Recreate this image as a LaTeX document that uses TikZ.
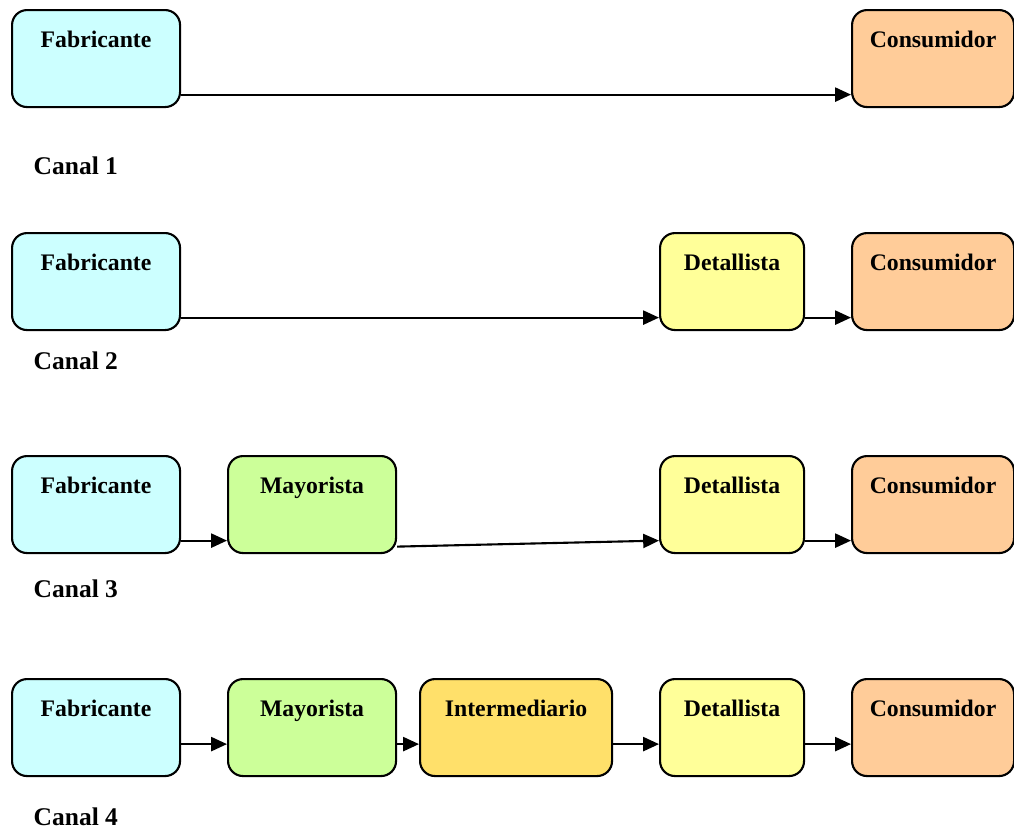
\documentclass[tikz,border=0pt]{standalone}
\usepackage{fontspec}
\setmainfont{Liberation Serif}
\usepackage{tikz}
\usetikzlibrary{positioning, arrows.meta}
\usepackage{xcolor}
\definecolor{fabcyan}{RGB}{204, 255, 255}
\definecolor{conorange}{RGB}{255, 204, 153}
\definecolor{detyellow}{RGB}{255, 255, 153}
\definecolor{maygreen}{RGB}{204, 255, 153}
\definecolor{intgold}{RGB}{255, 224, 106}

\begin{document}
\begin{tikzpicture}[>={Triangle[length=9pt, width=8pt]},
    box/.style={draw, line width=1.2pt, rounded corners=0.3cm, anchor=north west,
      inner xsep=0pt, inner ysep=0pt, text height=0.74cm, text depth=1.2cm,
      font=\fontsize{13.5}{16}\selectfont\bfseries},
    canal/.style={anchor=west, font=\fontsize{14.5}{17}\selectfont\bfseries},
    flow/.style={->, line width=1.2pt}]
  \useasboundingbox (0,0) rectangle (20.28,-16.62);
  % Canal 1: directo
  \begin{scope}[yshift=0cm]
    \node[box, fill=fabcyan, minimum width=3.36cm] (f1) at (0.22, -0.18) {Fabricante};
    \node[box, fill=conorange, minimum width=3.24cm] (c1) at (17.02, -0.18) {Consumidor};
    \draw[flow] ([yshift=0.27cm]f1.south east) -- ([yshift=0.27cm]c1.south west);
    \node[canal] (k1) at (0.55, -3.32) {Canal 1};
  \end{scope}
  % Canal 2: con detallista
  \begin{scope}[yshift=-4.46cm]
    \node[box, fill=fabcyan, minimum width=3.36cm] (f2) at (0.22, -0.18) {Fabricante};
    \node[box, fill=detyellow, minimum width=2.88cm] (d2) at (13.18, -0.18) {Detallista};
    \node[box, fill=conorange, minimum width=3.24cm] (c2) at (17.02, -0.18) {Consumidor};
    \draw[flow] ([yshift=0.27cm]f2.south east) -- ([yshift=0.27cm]d2.south west);
    \draw[flow] ([yshift=0.27cm]d2.south east) -- ([yshift=0.27cm]c2.south west);
    \node[canal] (k2) at (0.55, -2.76) {Canal 2};
  \end{scope}
  % Canal 3: mayorista y detallista
  \begin{scope}[yshift=-8.92cm]
    \node[box, fill=fabcyan, minimum width=3.36cm] (f3) at (0.22, -0.18) {Fabricante};
    \node[box, fill=maygreen, minimum width=3.36cm] (m3) at (4.54, -0.18) {Mayorista};
    \node[box, fill=detyellow, minimum width=2.88cm] (d3) at (13.18, -0.18) {Detallista};
    \node[box, fill=conorange, minimum width=3.24cm] (c3) at (17.02, -0.18) {Consumidor};
    \draw[flow] ([yshift=0.27cm]f3.south east) -- ([yshift=0.27cm]m3.south west);
    \draw[flow] ([yshift=0.15cm]m3.south east) -- ([yshift=0.27cm]d3.south west);
    \draw[flow] ([yshift=0.27cm]d3.south east) -- ([yshift=0.27cm]c3.south west);
    \node[canal] (k3) at (0.55, -2.86) {Canal 3};
  \end{scope}
  % Canal 4: cadena completa
  \begin{scope}[yshift=-13.38cm]
    \node[box, fill=fabcyan, minimum width=3.36cm] (f4) at (0.22, -0.18) {Fabricante};
    \node[box, fill=maygreen, minimum width=3.36cm] (m4) at (4.54, -0.18) {Mayorista};
    \node[box, fill=intgold, minimum width=3.84cm] (i4) at (8.38, -0.18) {Intermediario};
    \node[box, fill=detyellow, minimum width=2.88cm] (d4) at (13.18, -0.18) {Detallista};
    \node[box, fill=conorange, minimum width=3.24cm] (c4) at (17.02, -0.18) {Consumidor};
    \draw[flow] ([yshift=0.66cm]f4.south east) -- ([yshift=0.66cm]m4.south west);
    \draw[flow] ([yshift=0.66cm]m4.south east) -- ([yshift=0.66cm]i4.south west);
    \draw[flow] ([yshift=0.66cm]i4.south east) -- ([yshift=0.66cm]d4.south west);
    \draw[flow] ([yshift=0.66cm]d4.south east) -- ([yshift=0.66cm]c4.south west);
    \node[canal] (k4) at (0.55, -2.96) {Canal 4};
  \end{scope}
\end{tikzpicture}
\end{document}
